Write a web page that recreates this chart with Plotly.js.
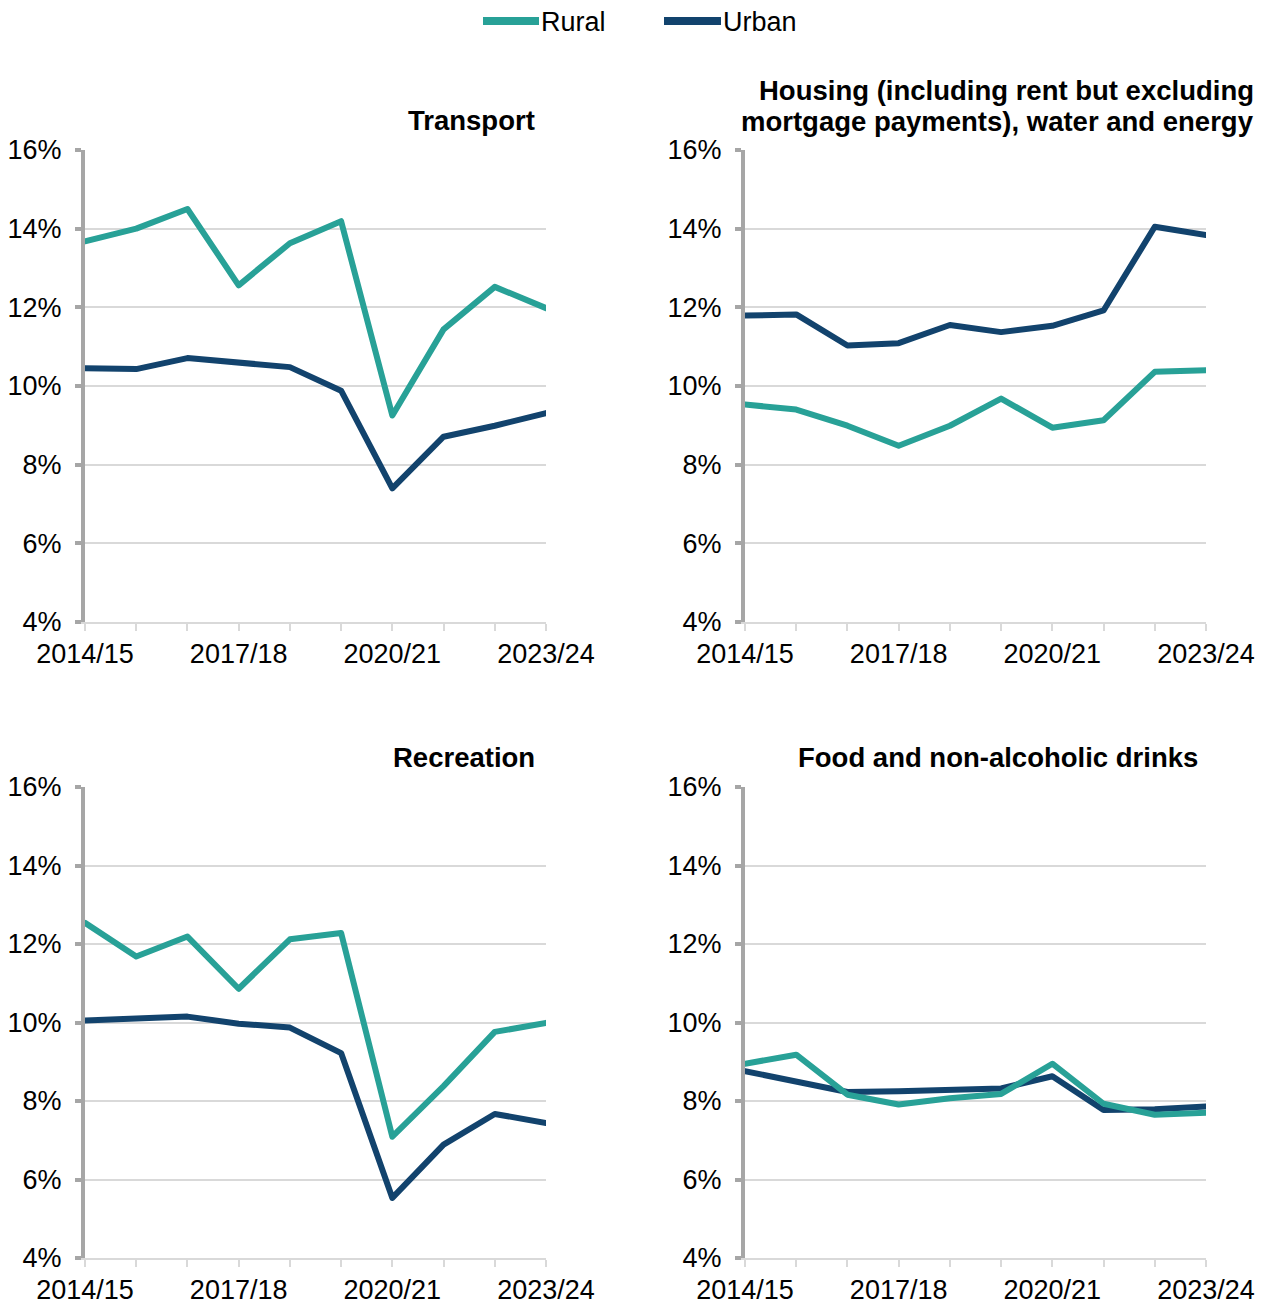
<!DOCTYPE html>
<html>
<head>
<meta charset="utf-8">
<script src="https://cdn.plot.ly/plotly-3.0.1.min.js"></script>
<style>html,body{margin:0;padding:0;background:#fff;}#chart{width:1267px;height:1307px;}
#chart .scatterlayer .js-line{stroke-linecap:round;stroke-linejoin:round;}</style>
</head>
<body>
<div id="chart"></div>
<script>
const years = ["2014/15","2015/16","2016/17","2017/18","2018/19","2019/20","2020/21","2021/22","2022/23","2023/24"];
const tickLabels = ["2014/15","","","2017/18","","","2020/21","","","2023/24"];

const transportRural = [13.68,14.00,14.50,12.56,13.63,14.19,9.25,11.44,12.52,11.98];
const transportUrban = [10.45,10.43,10.71,10.60,10.48,9.88,7.40,8.71,8.99,9.31];

const housingRural = [9.53,9.40,8.99,8.48,8.99,9.68,8.94,9.13,10.36,10.40];
const housingUrban = [11.79,11.82,11.03,11.09,11.55,11.37,11.53,11.92,14.05,13.84];

const recreationRural = [12.54,11.68,12.19,10.86,12.12,12.28,7.09,8.38,9.76,9.99];
const recreationUrban = [10.05,10.10,10.15,9.97,9.87,9.22,5.53,6.89,7.67,7.44];

const foodRural = [8.95,9.18,8.16,7.91,8.07,8.18,8.95,7.93,7.65,7.70];
const foodUrban = [8.76,8.51,8.23,8.25,8.27,8.32,8.63,7.77,7.79,7.86];

const seriesNames = ["Rural","Urban"];
const panelTitles = ["Transport","Housing (including rent but excluding","mortgage payments), water and energy","Recreation","Food and non-alcoholic drinks"];

const RURAL = "#28A197", URBAN = "#12436D";
const FONT = "Liberation Sans, Arial, sans-serif";
const FS = 27, TFS = 27.5;

const idx = years.map((_, i) => i);
const panels = [
  {r: transportRural, u: transportUrban, ax: ""},
  {r: housingRural, u: housingUrban, ax: "2"},
  {r: recreationRural, u: recreationUrban, ax: "3"},
  {r: foodRural, u: foodUrban, ax: "4"}
];

const traces = [];
panels.forEach((p, k) => {
  traces.push({x: idx, y: p.u, type: "scatter", mode: "lines", name: seriesNames[1],
    legendgroup: "u", showlegend: false,
    line: {color: URBAN, width: 6}, xaxis: "x" + p.ax, yaxis: "y" + p.ax, cliponaxis: false,
    text: years, hovertemplate: "%{text}: %{y:.1f}%<extra>Urban</extra>"});
  traces.push({x: idx, y: p.r, type: "scatter", mode: "lines", name: seriesNames[0],
    legendgroup: "r", showlegend: false,
    line: {color: RURAL, width: 6}, xaxis: "x" + p.ax, yaxis: "y" + p.ax, cliponaxis: false,
    text: years, hovertemplate: "%{text}: %{y:.1f}%<extra>Rural</extra>"});
});

const W = 1267, H = 1307;
const xLeft = [85 / W, 546 / W], xRight = [745 / W, 1206 / W];
const yTop = [1 - 622 / H, 1 - 150 / H], yBot = [1 - 1258 / H, 1 - 787 / H];

function xa(domain, anchor) {
  return {domain: domain, anchor: anchor, range: [0, 9], tickmode: "array",
    tickvals: idx, ticktext: tickLabels, ticks: "outside", ticklen: 7, tickwidth: 2,
    tickcolor: "#D9D9D9", showline: true, linecolor: "#D9D9D9", linewidth: 2,
    showgrid: false, zeroline: false, fixedrange: true,
    tickfont: {family: FONT, size: FS, color: "#000"}};
}
function ya(domain, anchor) {
  return {domain: domain, anchor: anchor, range: [4, 16], dtick: 2, tick0: 4,
    ticksuffix: "%", ticks: "outside", ticklen: 6, tickwidth: 4, tickcolor: "#A6A6A6",
    showline: true, linecolor: "#A6A6A6", linewidth: 4,
    showgrid: true, gridcolor: "#D9D9D9", gridwidth: 2, zeroline: false, fixedrange: true,
    ticklabelstandoff: 8,
    tickfont: {family: FONT, size: FS, color: "#000"}};
}

function title(txt, xr, yc) {
  return {text: "<b>" + txt + "</b>", xref: "paper", yref: "paper", x: xr / W, y: 1 - yc / H,
    xanchor: "right", yanchor: "middle", showarrow: false, align: "right",
    font: {family: FONT, size: TFS, color: "#000"}};
}
function legText(txt, xl) {
  return {text: txt, xref: "paper", yref: "paper", x: xl / W, y: 1 - 22 / H,
    xanchor: "left", yanchor: "middle", showarrow: false, borderpad: 0,
    font: {family: FONT, size: FS, color: "#000"}};
}
function legLine(color, x0, x1) {
  return {type: "line", xref: "paper", yref: "paper", x0: x0 / W, x1: x1 / W,
    y0: 1 - 21 / H, y1: 1 - 21 / H, line: {color: color, width: 8}};
}

const layout = {
  width: W, height: H, margin: {l: 0, r: 0, t: 0, b: 0},
  paper_bgcolor: "#fff", plot_bgcolor: "#fff",
  font: {family: FONT, size: FS, color: "#000"},
  showlegend: false,
  xaxis: xa(xLeft, "y"), yaxis: ya(yTop, "x"),
  xaxis2: xa(xRight, "y2"), yaxis2: ya(yTop, "x2"),
  xaxis3: xa(xLeft, "y3"), yaxis3: ya(yBot, "x3"),
  xaxis4: xa(xRight, "y4"), yaxis4: ya(yBot, "x4"),
  shapes: [legLine(RURAL, 483, 539), legLine(URBAN, 664, 721)],
  annotations: [
    legText(seriesNames[0], 540), legText(seriesNames[1], 722),
    title(panelTitles[0], 537, 121),
    title(panelTitles[1], 1256, 90),
    title(panelTitles[2], 1256, 122),
    title(panelTitles[3], 537, 758),
    title(panelTitles[4], 1200, 757)
  ]
};

Plotly.newPlot("chart", traces, layout, {displayModeBar: false, responsive: false});
</script>
</body>
</html>
